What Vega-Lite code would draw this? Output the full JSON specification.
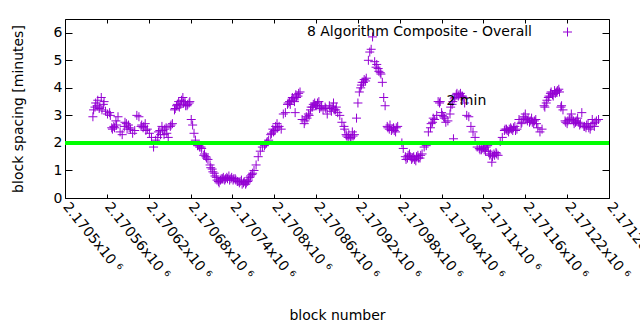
{
"$schema": "https://vega.github.io/schema/vega-lite/v6.json",
"width": 544, "height": 179,
"autosize": {"type": "none"},
"padding": {"left": 65, "top": 19, "right": 31, "bottom": 132},
"config": {
 "view": {"stroke": "black", "strokeWidth": 1},
 "font": "DejaVu Sans",
 "axis": {"domain": false, "grid": false, "labelFont": "DejaVu Sans", "labelFontSize": 14, "labelColor": "black", "titleFont": "DejaVu Sans", "titleFontSize": 14, "titleFontWeight": "normal", "titleColor": "black", "tickColor": "black"}
},
"datasets": {
 "pts": [
{"b":2170540,"v":2.95},{"b":2170543,"v":3.3},{"b":2170546,"v":3.35},{"b":2170549,"v":3.25},{"b":2170552,"v":3.65},{"b":2170555,"v":3.4},{"b":2170558,"v":3.15},{"b":2170561,"v":3.05},{"b":2170564,"v":3.1},{"b":2170567,"v":2.55},{"b":2170570,"v":2.6},{"b":2170573,"v":2.8},{"b":2170576,"v":2.95},{"b":2170579,"v":2.4},{"b":2170582,"v":2.3},{"b":2170585,"v":2.6},{"b":2170588,"v":2.7},{"b":2170591,"v":2.65},{"b":2170594,"v":2.5},{"b":2170597,"v":2.35},{"b":2170600,"v":2.45},{"b":2170603,"v":3.0},{"b":2170606,"v":2.95},{"b":2170609,"v":2.6},{"b":2170612,"v":2.55},{"b":2170615,"v":2.7},{"b":2170618,"v":2.5},{"b":2170621,"v":2.35},{"b":2170624,"v":2.2},{"b":2170627,"v":1.85},{"b":2170630,"v":2.1},{"b":2170633,"v":2.2},{"b":2170636,"v":2.45},{"b":2170639,"v":2.6},{"b":2170642,"v":2.3},{"b":2170645,"v":2.55},{"b":2170648,"v":2.2},{"b":2170651,"v":2.6},{"b":2170654,"v":2.7},{"b":2170657,"v":3.2},{"b":2170660,"v":3.35},{"b":2170663,"v":3.5},{"b":2170666,"v":3.4},{"b":2170669,"v":3.65},{"b":2170672,"v":3.5},{"b":2170675,"v":3.35},{"b":2170678,"v":3.45},{"b":2170681,"v":2.85},{"b":2170683,"v":2.65},{"b":2170685,"v":2.35},{"b":2170687,"v":2.1},{"b":2170690,"v":1.9},{"b":2170693,"v":1.85},{"b":2170696,"v":1.8},{"b":2170699,"v":1.55},{"b":2170702,"v":1.5},{"b":2170705,"v":1.4},{"b":2170708,"v":1.2},{"b":2170711,"v":1.05},{"b":2170714,"v":0.9},{"b":2170717,"v":0.75},{"b":2170720,"v":0.6},{"b":2170723,"v":0.65},{"b":2170726,"v":0.7},{"b":2170729,"v":0.65},{"b":2170732,"v":0.75},{"b":2170735,"v":0.8},{"b":2170738,"v":0.7},{"b":2170741,"v":0.65},{"b":2170744,"v":0.7},{"b":2170747,"v":0.6},{"b":2170750,"v":0.55},{"b":2170753,"v":0.65},{"b":2170756,"v":0.55},{"b":2170759,"v":0.5},{"b":2170762,"v":0.6},{"b":2170765,"v":0.75},{"b":2170768,"v":0.85},{"b":2170771,"v":1.0},{"b":2170774,"v":1.2},{"b":2170777,"v":1.5},{"b":2170780,"v":1.7},{"b":2170783,"v":1.85},{"b":2170786,"v":1.9},{"b":2170789,"v":2.0},{"b":2170792,"v":2.1},{"b":2170795,"v":2.3},{"b":2170798,"v":2.5},{"b":2170801,"v":2.45},{"b":2170804,"v":2.7},{"b":2170807,"v":2.6},{"b":2170810,"v":2.5},{"b":2170813,"v":3.05},{"b":2170816,"v":3.1},{"b":2170819,"v":3.4},{"b":2170822,"v":3.5},{"b":2170825,"v":3.55},{"b":2170828,"v":3.6},{"b":2170831,"v":3.75},{"b":2170834,"v":3.7},{"b":2170837,"v":3.85},{"b":2170840,"v":2.85},{"b":2170843,"v":2.7},{"b":2170846,"v":2.95},{"b":2170849,"v":3.05},{"b":2170852,"v":3.2},{"b":2170855,"v":3.3},{"b":2170858,"v":3.45},{"b":2170861,"v":3.35},{"b":2170864,"v":3.5},{"b":2170867,"v":3.3},{"b":2170870,"v":3.2},{"b":2170873,"v":3.3},{"b":2170876,"v":3.05},{"b":2170879,"v":3.35},{"b":2170882,"v":3.15},{"b":2170885,"v":3.45},{"b":2170888,"v":3.2},{"b":2170891,"v":3.1},{"b":2170894,"v":3.0},{"b":2170897,"v":2.75},{"b":2170900,"v":2.6},{"b":2170903,"v":2.3},{"b":2170906,"v":2.2},{"b":2170909,"v":2.15},{"b":2170912,"v":2.4},{"b":2170915,"v":2.3},{"b":2170918,"v":2.9},{"b":2170920,"v":3.45},{"b":2170922,"v":3.85},{"b":2170924,"v":4.0},{"b":2170926,"v":4.2},{"b":2170929,"v":4.3},{"b":2170932,"v":4.35},{"b":2170935,"v":5.0},{"b":2170937,"v":5.3},{"b":2170939,"v":5.4},{"b":2170941,"v":5.85},{"b":2170944,"v":4.95},{"b":2170947,"v":4.85},{"b":2170950,"v":4.6},{"b":2170953,"v":4.5},{"b":2170955,"v":4.2},{"b":2170957,"v":3.65},{"b":2170959,"v":3.35},{"b":2170962,"v":2.6},{"b":2170965,"v":2.5},{"b":2170968,"v":2.45},{"b":2170971,"v":2.55},{"b":2170974,"v":2.4},{"b":2170977,"v":2.6},{"b":2170983,"v":2.0},{"b":2170985,"v":1.8},{"b":2170988,"v":1.5},{"b":2170991,"v":1.45},{"b":2170994,"v":1.6},{"b":2170997,"v":1.4},{"b":2171000,"v":1.5},{"b":2171003,"v":1.35},{"b":2171006,"v":1.55},{"b":2171009,"v":1.45},{"b":2171012,"v":1.6},{"b":2171015,"v":1.85},{"b":2171018,"v":1.9},{"b":2171021,"v":2.4},{"b":2171024,"v":2.55},{"b":2171027,"v":2.75},{"b":2171030,"v":2.85},{"b":2171033,"v":3.0},{"b":2171035,"v":3.5},{"b":2171037,"v":3.45},{"b":2171040,"v":3.1},{"b":2171043,"v":2.95},{"b":2171046,"v":2.75},{"b":2171049,"v":2.8},{"b":2171052,"v":3.05},{"b":2171055,"v":3.4},{"b":2171058,"v":3.6},{"b":2171061,"v":3.75},{"b":2171064,"v":3.7},{"b":2171067,"v":3.8},{"b":2171070,"v":3.7},{"b":2171073,"v":3.45},{"b":2171076,"v":3.0},{"b":2171079,"v":2.95},{"b":2171082,"v":2.6},{"b":2171085,"v":2.4},{"b":2171088,"v":2.2},{"b":2171091,"v":1.85},{"b":2171094,"v":1.8},{"b":2171097,"v":1.75},{"b":2171100,"v":1.85},{"b":2171103,"v":1.7},{"b":2171106,"v":1.9},{"b":2171109,"v":1.55},{"b":2171112,"v":1.3},{"b":2171115,"v":1.6},{"b":2171118,"v":1.65},{"b":2171121,"v":1.55},{"b":2171124,"v":2.05},{"b":2171127,"v":2.2},{"b":2171130,"v":2.45},{"b":2171133,"v":2.5},{"b":2171136,"v":2.4},{"b":2171139,"v":2.55},{"b":2171142,"v":2.45},{"b":2171145,"v":2.6},{"b":2171148,"v":2.5},{"b":2171151,"v":2.85},{"b":2171154,"v":2.7},{"b":2171157,"v":2.9},{"b":2171160,"v":3.05},{"b":2171163,"v":2.8},{"b":2171166,"v":2.75},{"b":2171169,"v":2.9},{"b":2171172,"v":2.7},{"b":2171175,"v":2.85},{"b":2171178,"v":2.55},{"b":2171181,"v":2.4},{"b":2171184,"v":2.5},{"b":2171187,"v":3.35},{"b":2171190,"v":3.45},{"b":2171193,"v":3.65},{"b":2171196,"v":3.8},{"b":2171199,"v":3.75},{"b":2171202,"v":3.9},{"b":2171205,"v":3.85},{"b":2171208,"v":3.95},{"b":2171211,"v":3.3},{"b":2171214,"v":3.2},{"b":2171217,"v":2.8},{"b":2171220,"v":2.7},{"b":2171223,"v":2.85},{"b":2171226,"v":3.05},{"b":2171229,"v":2.8},{"b":2171232,"v":2.75},{"b":2171235,"v":2.9},{"b":2171238,"v":2.65},{"b":2171241,"v":3.1},{"b":2171244,"v":2.6},{"b":2171247,"v":2.55},{"b":2171250,"v":2.7},{"b":2171253,"v":2.5},{"b":2171256,"v":2.85},{"b":2171259,"v":2.6},{"b":2171262,"v":2.8},{"b":2171265,"v":2.85},
{"b":2170541,"v":3.2},{"b":2170544,"v":3.45},{"b":2170547,"v":3.55},{"b":2170550,"v":3.3},{"b":2170553,"v":3.2},{"b":2170556,"v":3.5},{"b":2170565,"v":3.0},{"b":2170568,"v":2.5},{"b":2170571,"v":2.55},{"b":2170574,"v":2.65},{"b":2170586,"v":2.75},{"b":2170589,"v":2.5},{"b":2170592,"v":2.55},{"b":2170610,"v":2.65},{"b":2170613,"v":2.6},{"b":2170616,"v":2.45},{"b":2170634,"v":2.4},{"b":2170637,"v":2.3},{"b":2170640,"v":2.45},{"b":2170643,"v":2.5},{"b":2170646,"v":2.35},{"b":2170652,"v":2.65},{"b":2170658,"v":3.25},{"b":2170661,"v":3.4},{"b":2170664,"v":3.3},{"b":2170667,"v":3.55},{"b":2170670,"v":3.45},{"b":2170673,"v":3.35},{"b":2170676,"v":3.4},{"b":2170679,"v":3.5},{"b":2170692,"v":1.9},{"b":2170695,"v":1.85},{"b":2170700,"v":1.6},{"b":2170703,"v":1.45},{"b":2170709,"v":1.1},{"b":2170712,"v":0.95},{"b":2170715,"v":0.8},{"b":2170718,"v":0.65},{"b":2170721,"v":0.55},{"b":2170724,"v":0.7},{"b":2170727,"v":0.75},{"b":2170730,"v":0.7},{"b":2170733,"v":0.7},{"b":2170736,"v":0.65},{"b":2170739,"v":0.75},{"b":2170742,"v":0.7},{"b":2170745,"v":0.65},{"b":2170748,"v":0.6},{"b":2170751,"v":0.6},{"b":2170754,"v":0.5},{"b":2170757,"v":0.6},{"b":2170760,"v":0.55},{"b":2170763,"v":0.65},{"b":2170766,"v":0.8},{"b":2170769,"v":0.9},{"b":2170787,"v":1.95},{"b":2170790,"v":2.05},{"b":2170796,"v":2.35},{"b":2170799,"v":2.4},{"b":2170802,"v":2.6},{"b":2170805,"v":2.55},{"b":2170820,"v":3.45},{"b":2170823,"v":3.4},{"b":2170826,"v":3.65},{"b":2170829,"v":3.5},{"b":2170830,"v":3.1},{"b":2170832,"v":3.65},{"b":2170835,"v":3.8},{"b":2170844,"v":2.8},{"b":2170847,"v":2.9},{"b":2170850,"v":3.0},{"b":2170853,"v":3.3},{"b":2170856,"v":3.4},{"b":2170859,"v":3.35},{"b":2170862,"v":3.45},{"b":2170865,"v":3.25},{"b":2170868,"v":3.35},{"b":2170874,"v":3.25},{"b":2170880,"v":3.25},{"b":2170883,"v":3.3},{"b":2170886,"v":3.2},{"b":2170889,"v":3.3},{"b":2170901,"v":2.5},{"b":2170904,"v":2.25},{"b":2170907,"v":2.3},{"b":2170910,"v":2.2},{"b":2170913,"v":2.25},{"b":2170925,"v":4.1},{"b":2170928,"v":4.2},{"b":2170931,"v":4.25},{"b":2170946,"v":4.75},{"b":2170949,"v":4.7},{"b":2170952,"v":4.55},{"b":2170963,"v":2.55},{"b":2170966,"v":2.65},{"b":2170969,"v":2.5},{"b":2170972,"v":2.45},{"b":2170975,"v":2.55},{"b":2170989,"v":1.4},{"b":2170992,"v":1.55},{"b":2170995,"v":1.5},{"b":2170998,"v":1.45},{"b":2171001,"v":1.4},{"b":2171004,"v":1.5},{"b":2171007,"v":1.45},{"b":2171010,"v":1.55},{"b":2171025,"v":2.7},{"b":2171028,"v":2.9},{"b":2171038,"v":3.5},{"b":2171041,"v":3.0},{"b":2171044,"v":2.9},{"b":2171053,"v":3.3},{"b":2171056,"v":3.5},{"b":2171057,"v":2.15},{"b":2171059,"v":3.65},{"b":2171062,"v":3.8},{"b":2171065,"v":3.75},{"b":2171068,"v":3.7},{"b":2171071,"v":3.65},{"b":2171095,"v":1.75},{"b":2171098,"v":1.8},{"b":2171101,"v":1.75},{"b":2171104,"v":1.85},{"b":2171107,"v":1.7},{"b":2171110,"v":1.6},{"b":2171113,"v":1.5},{"b":2171116,"v":1.55},{"b":2171119,"v":1.6},{"b":2171131,"v":2.5},{"b":2171134,"v":2.45},{"b":2171137,"v":2.5},{"b":2171140,"v":2.5},{"b":2171143,"v":2.55},{"b":2171146,"v":2.45},{"b":2171155,"v":2.75},{"b":2171158,"v":2.95},{"b":2171161,"v":2.85},{"b":2171164,"v":2.9},{"b":2171167,"v":2.8},{"b":2171170,"v":2.75},{"b":2171173,"v":2.8},{"b":2171176,"v":2.7},{"b":2171188,"v":3.3},{"b":2171191,"v":3.55},{"b":2171194,"v":3.7},{"b":2171197,"v":3.85},{"b":2171200,"v":3.7},{"b":2171203,"v":3.8},{"b":2171206,"v":3.9},{"b":2171209,"v":3.85},{"b":2171212,"v":3.35},{"b":2171218,"v":2.75},{"b":2171221,"v":2.8},{"b":2171224,"v":2.9},{"b":2171227,"v":2.85},{"b":2171230,"v":2.7},{"b":2171233,"v":2.8},{"b":2171236,"v":2.75},{"b":2171239,"v":2.7},{"b":2171245,"v":2.6},{"b":2171248,"v":2.65},{"b":2171251,"v":2.55},{"b":2171254,"v":2.6},{"b":2171257,"v":2.7},{"b":2171260,"v":2.75}
 ]
},
"layer": [
 {
  "data": {"name": "pts"},
  "mark": {"type": "point", "shape": "M-1,0L1,0M0,-1L0,1", "filled": false, "size": 81, "strokeWidth": 1, "opacity": 1},
  "encoding": {
   "x": {"field": "b", "type": "quantitative", "scale": {"domain": [2170500, 2171280], "nice": false, "zero": false},
    "axis": {"title": "block number", "values": [2170500,2170560,2170620,2170680,2170740,2170800,2170860,2170920,2170980,2171040,2171100,2171160,2171220,2171280], "tickSize": -4, "labelAngle": 51, "labelAlign": "left", "labelBaseline": "middle", "labelPadding": 10, "labelExpr": "format(datum.value/1000000,'.6~f')+'x10 ⁶'", "labelOverlap": false, "labelFlush": false, "labelBound": false, "titleY": 117, "titleBaseline": "middle"}},
   "y": {"field": "v", "type": "quantitative", "scale": {"domain": [0, 6.5], "nice": false},
    "axis": {"title": "block spacing [minutes]", "values": [0,1,2,3,4,5,6], "tickSize": -7, "labelPadding": 10, "titleX": -47, "titleBaseline": "middle"}},
   "color": {"datum": "8 Algorithm Composite - Overall", "type": "nominal", "scale": {"range": ["#9400d3"]},
    "legend": {"title": null, "orient": "none", "legendX": 495.5, "legendY": 6, "labelAlign": "right", "labelOffset": -42.5, "labelLimit": 400, "symbolType": "M-1,0L1,0M0,-1L0,1", "symbolSize": 81, "symbolStrokeWidth": 1, "symbolFillColor": "transparent", "symbolStrokeColor": "#9400d3", "labelFontSize": 14, "labelFont": "DejaVu Sans", "labelColor": "black", "padding": 0}}
  }
 },
 {
  "data": {"name": "pts"},
  "mark": {"type": "point", "opacity": 0},
  "encoding": {
   "x": {"field": "b", "type": "quantitative", "axis": {"orient": "top", "labels": false, "title": null, "values": [2170500,2170560,2170620,2170680,2170740,2170800,2170860,2170920,2170980,2171040,2171100,2171160,2171220,2171280], "tickSize": -4}},
   "y": {"field": "v", "type": "quantitative", "axis": {"orient": "right", "labels": false, "title": null, "values": [0,1,2,3,4,5,6], "tickSize": -7}}
  }
 },
 {
  "data": {"values": [{"level": 2}]},
  "mark": {"type": "rule", "color": "#00ff00", "strokeWidth": 4},
  "encoding": {"y": {"field": "level", "type": "quantitative", "axis": null}}
 },
 {
  "data": {"values": [{"b": 2171047, "v": 3.54, "t": "2 min"}]},
  "mark": {"type": "text", "align": "left", "baseline": "middle", "fontSize": 14, "font": "DejaVu Sans", "color": "black"},
  "encoding": {"x": {"field": "b", "type": "quantitative", "axis": null}, "y": {"field": "v", "type": "quantitative", "axis": null}, "text": {"field": "t"}}
 }
],
"resolve": {"axis": {"x": "independent", "y": "independent"}}
}
